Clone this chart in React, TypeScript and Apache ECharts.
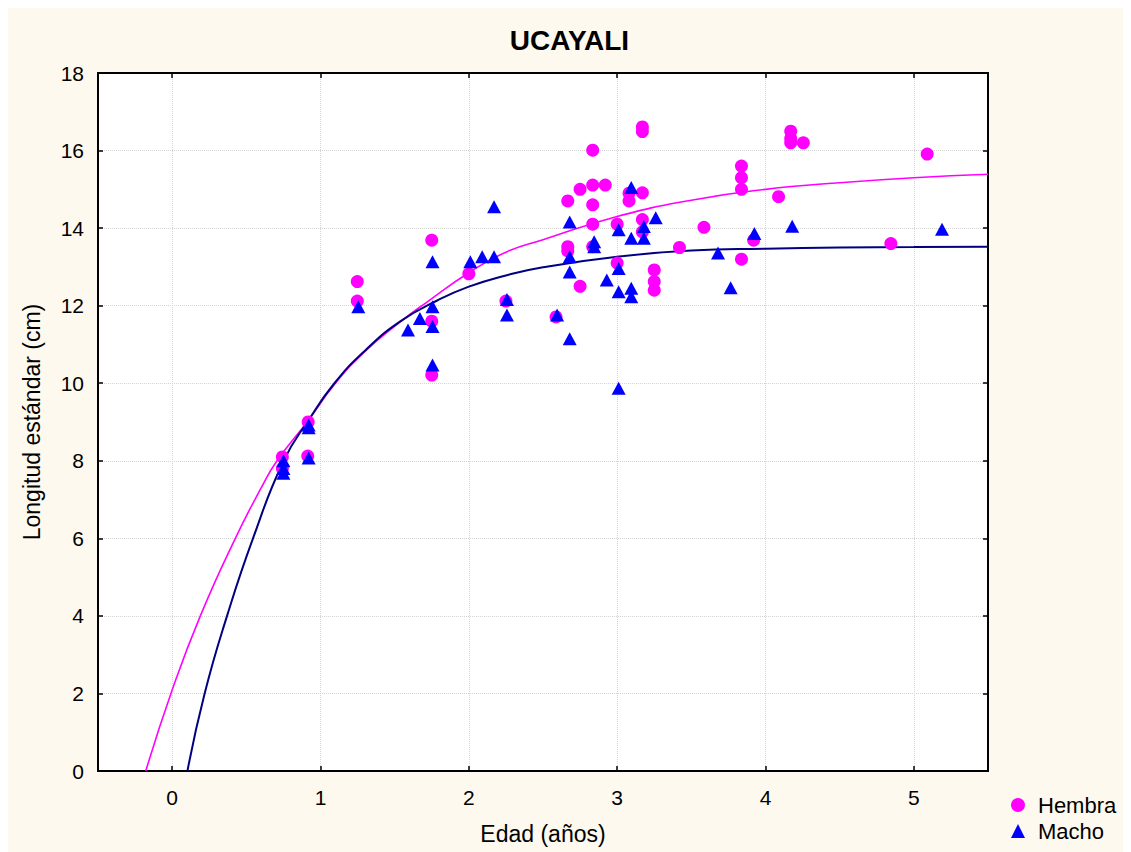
import React, { useEffect, useRef } from "react";
import * as echarts from "echarts";

const xTicks = [0, 1, 2, 3, 4, 5];

const hembraPoints: number[][] = [
  [0.743, 8.1], [0.743, 7.8], [0.917, 9.0], [0.914, 8.12],
  [1.248, 12.62], [1.248, 12.12], [1.75, 13.69], [1.75, 11.6], [1.75, 10.21],
  [2.0, 12.82], [2.25, 12.12], [2.588, 11.71],
  [2.667, 14.7], [2.667, 13.52], [2.667, 13.41], [2.75, 15.0], [2.75, 12.5],
  [2.835, 16.01], [2.835, 15.11], [2.92, 15.11], [2.835, 14.6], [2.835, 14.1], [2.835, 13.52],
  [3.0, 14.1], [3.0, 13.1], [3.08, 14.9], [3.08, 14.7],
  [3.17, 16.61], [3.17, 16.49], [3.17, 14.91], [3.17, 14.22], [3.17, 13.9],
  [3.25, 12.92], [3.25, 12.62], [3.25, 12.4], [3.42, 13.5], [3.585, 14.02],
  [3.838, 15.6], [3.838, 15.3], [3.838, 15.0], [3.838, 13.2], [3.92, 13.69],
  [4.088, 14.81], [4.17, 16.5], [4.17, 16.31], [4.17, 16.2], [4.255, 16.2],
  [4.845, 13.6], [5.09, 15.91],
];

const machoPoints: number[][] = [
  [0.75, 8.0], [0.75, 7.68], [0.75, 7.8], [0.92, 8.92], [0.92, 8.85], [0.92, 8.07],
  [1.255, 11.97], [1.59, 11.37], [1.67, 11.67], [1.755, 11.97], [1.755, 11.46],
  [1.755, 10.47], [1.755, 13.13], [2.01, 13.13], [2.09, 13.26], [2.17, 13.26],
  [2.17, 14.55], [2.257, 12.16], [2.257, 11.76], [2.595, 11.76], [2.68, 11.15],
  [2.68, 14.16], [2.68, 13.26], [2.68, 12.87], [2.845, 13.65], [2.845, 13.52],
  [2.93, 12.66], [3.01, 13.96], [3.01, 12.96], [3.01, 12.36], [3.01, 9.87],
  [3.095, 15.05], [3.095, 13.74], [3.095, 12.45], [3.095, 12.23],
  [3.18, 14.04], [3.18, 13.74], [3.26, 14.27], [3.68, 13.36], [3.765, 12.46],
  [3.925, 13.86], [4.18, 14.05], [5.19, 13.97],
];

// curves
const hembraCurve: number[][] = [
  [-0.178, 0], [0, 2.09], [0.19, 4], [0.426, 6], [0.6, 7.3], [0.707, 8], [0.92, 9.05],
  [1.1, 10.0], [1.3, 10.82], [1.54, 11.59], [1.72, 12.1], [2, 12.85], [2.25, 13.38],
  [2.5, 13.7], [3, 14.3], [3.5, 14.72], [4, 15.0], [4.5, 15.17], [5, 15.3], [5.5, 15.39],
];

const machoCurve: number[][] = [
  [0.103, 0], [0.219, 2], [0.37, 4], [0.545, 6], [0.752, 8], [0.92, 9.05],
  [1.09, 9.98], [1.3, 10.84], [1.54, 11.6], [1.79, 12.14], [2, 12.49], [2.25, 12.78],
  [2.5, 12.99], [3, 13.26], [3.5, 13.42], [4, 13.47], [4.5, 13.5], [5, 13.51], [5.5, 13.52],
];

const FONT = "'Liberation Sans', Arial, sans-serif";

export default function App() {
  const ref = useRef<HTMLDivElement>(null);
  useEffect(() => {
    document.documentElement.style.overflow = "hidden";
    document.body.style.overflow = "hidden";
    const chart = echarts.init(ref.current!, undefined, { renderer: "svg" });
    const axisCommon = {
      axisLine: { show: true, onZero: false, lineStyle: { color: "#000", width: 2 } },
      axisTick: { show: true, inside: true, length: 5, lineStyle: { color: "#000", width: 1.5 } },
    };
    chart.setOption({
      animation: false,
      backgroundColor: "#FEF9EE",
      title: {
        text: "UCAYALI",
        left: "center",
        top: 13,
        padding: [5, 0, 5, 12],
        textStyle: { fontFamily: FONT, fontSize: 28, fontWeight: "bold", color: "#000" },
      },
      grid: {
        left: 90, top: 65, right: 143, bottom: 81,
        show: true, backgroundColor: "#fff", borderWidth: 0,
      },
      legend: {
        orient: "vertical",
        left: 998,
        top: 781,
        itemWidth: 14,
        itemHeight: 14,
        itemGap: 4,
        data: [
          { name: "Hembra", icon: "circle" },
          { name: "Macho", icon: "triangle" },
        ],
        textStyle: { fontFamily: FONT, fontSize: 22, color: "#000", padding: [0, 0, 0, 8] },
      },
      xAxis: [
        {
          type: "value", min: -0.5, max: 5.5, minInterval: 1, maxInterval: 1,
          position: "bottom",
          name: "Edad (años)", nameLocation: "middle", nameGap: 51,
          nameTextStyle: { fontFamily: FONT, fontSize: 23, color: "#000" },
          ...axisCommon,
          axisLabel: {
            fontFamily: FONT, fontSize: 21, color: "#000", margin: 16,
            formatter: (v: number) => (xTicks.includes(v) ? String(v) : ""),
          },
          splitLine: { show: true, lineStyle: { color: "#d4d4d4", type: "dotted", width: 1 } },
        },
        {
          type: "value", min: -0.5, max: 5.5, minInterval: 1, maxInterval: 1,
          position: "top",
          ...axisCommon,
          axisLabel: { show: false },
          splitLine: { show: false },
        },
      ],
      yAxis: [
        {
          type: "value", min: 0, max: 18, interval: 2,
          position: "left",
          name: "Longitud estándar (cm)", nameLocation: "middle", nameGap: 55,
          nameTextStyle: { fontFamily: FONT, fontSize: 23, color: "#000" },
          ...axisCommon,
          axisLabel: { fontFamily: FONT, fontSize: 21, color: "#000", margin: 14 },
          splitLine: { show: true, lineStyle: { color: "#d4d4d4", type: "dotted", width: 1 } },
        },
        {
          type: "value", min: 0, max: 18, interval: 2,
          position: "right",
          ...axisCommon,
          axisLabel: { show: false },
          splitLine: { show: false },
        },
      ],
      series: [
        {
          name: "HembraCurve", type: "line", data: hembraCurve, smooth: 0.5,
          showSymbol: false, symbol: "none", clip: true,
          lineStyle: { color: "#FF00FF", width: 1.6 }, z: 2, silent: true,
        },
        {
          name: "MachoCurve", type: "line", data: machoCurve, smooth: 0.5,
          showSymbol: false, symbol: "none", clip: true,
          lineStyle: { color: "#000080", width: 2 }, z: 2, silent: true,
        },
        {
          name: "Hembra", type: "scatter", data: hembraPoints, symbol: "circle",
          symbolSize: 13, itemStyle: { color: "#FF00FF", opacity: 1 }, z: 3,
        },
        {
          name: "Macho", type: "scatter", data: machoPoints, symbol: "triangle",
          symbolSize: [14, 13], itemStyle: { color: "#0000FF", opacity: 1 }, z: 4,
        },
      ],
    });
    return () => chart.dispose();
  }, []);
  return <div ref={ref} style={{ width: 1123, height: 844 }} />;
}
